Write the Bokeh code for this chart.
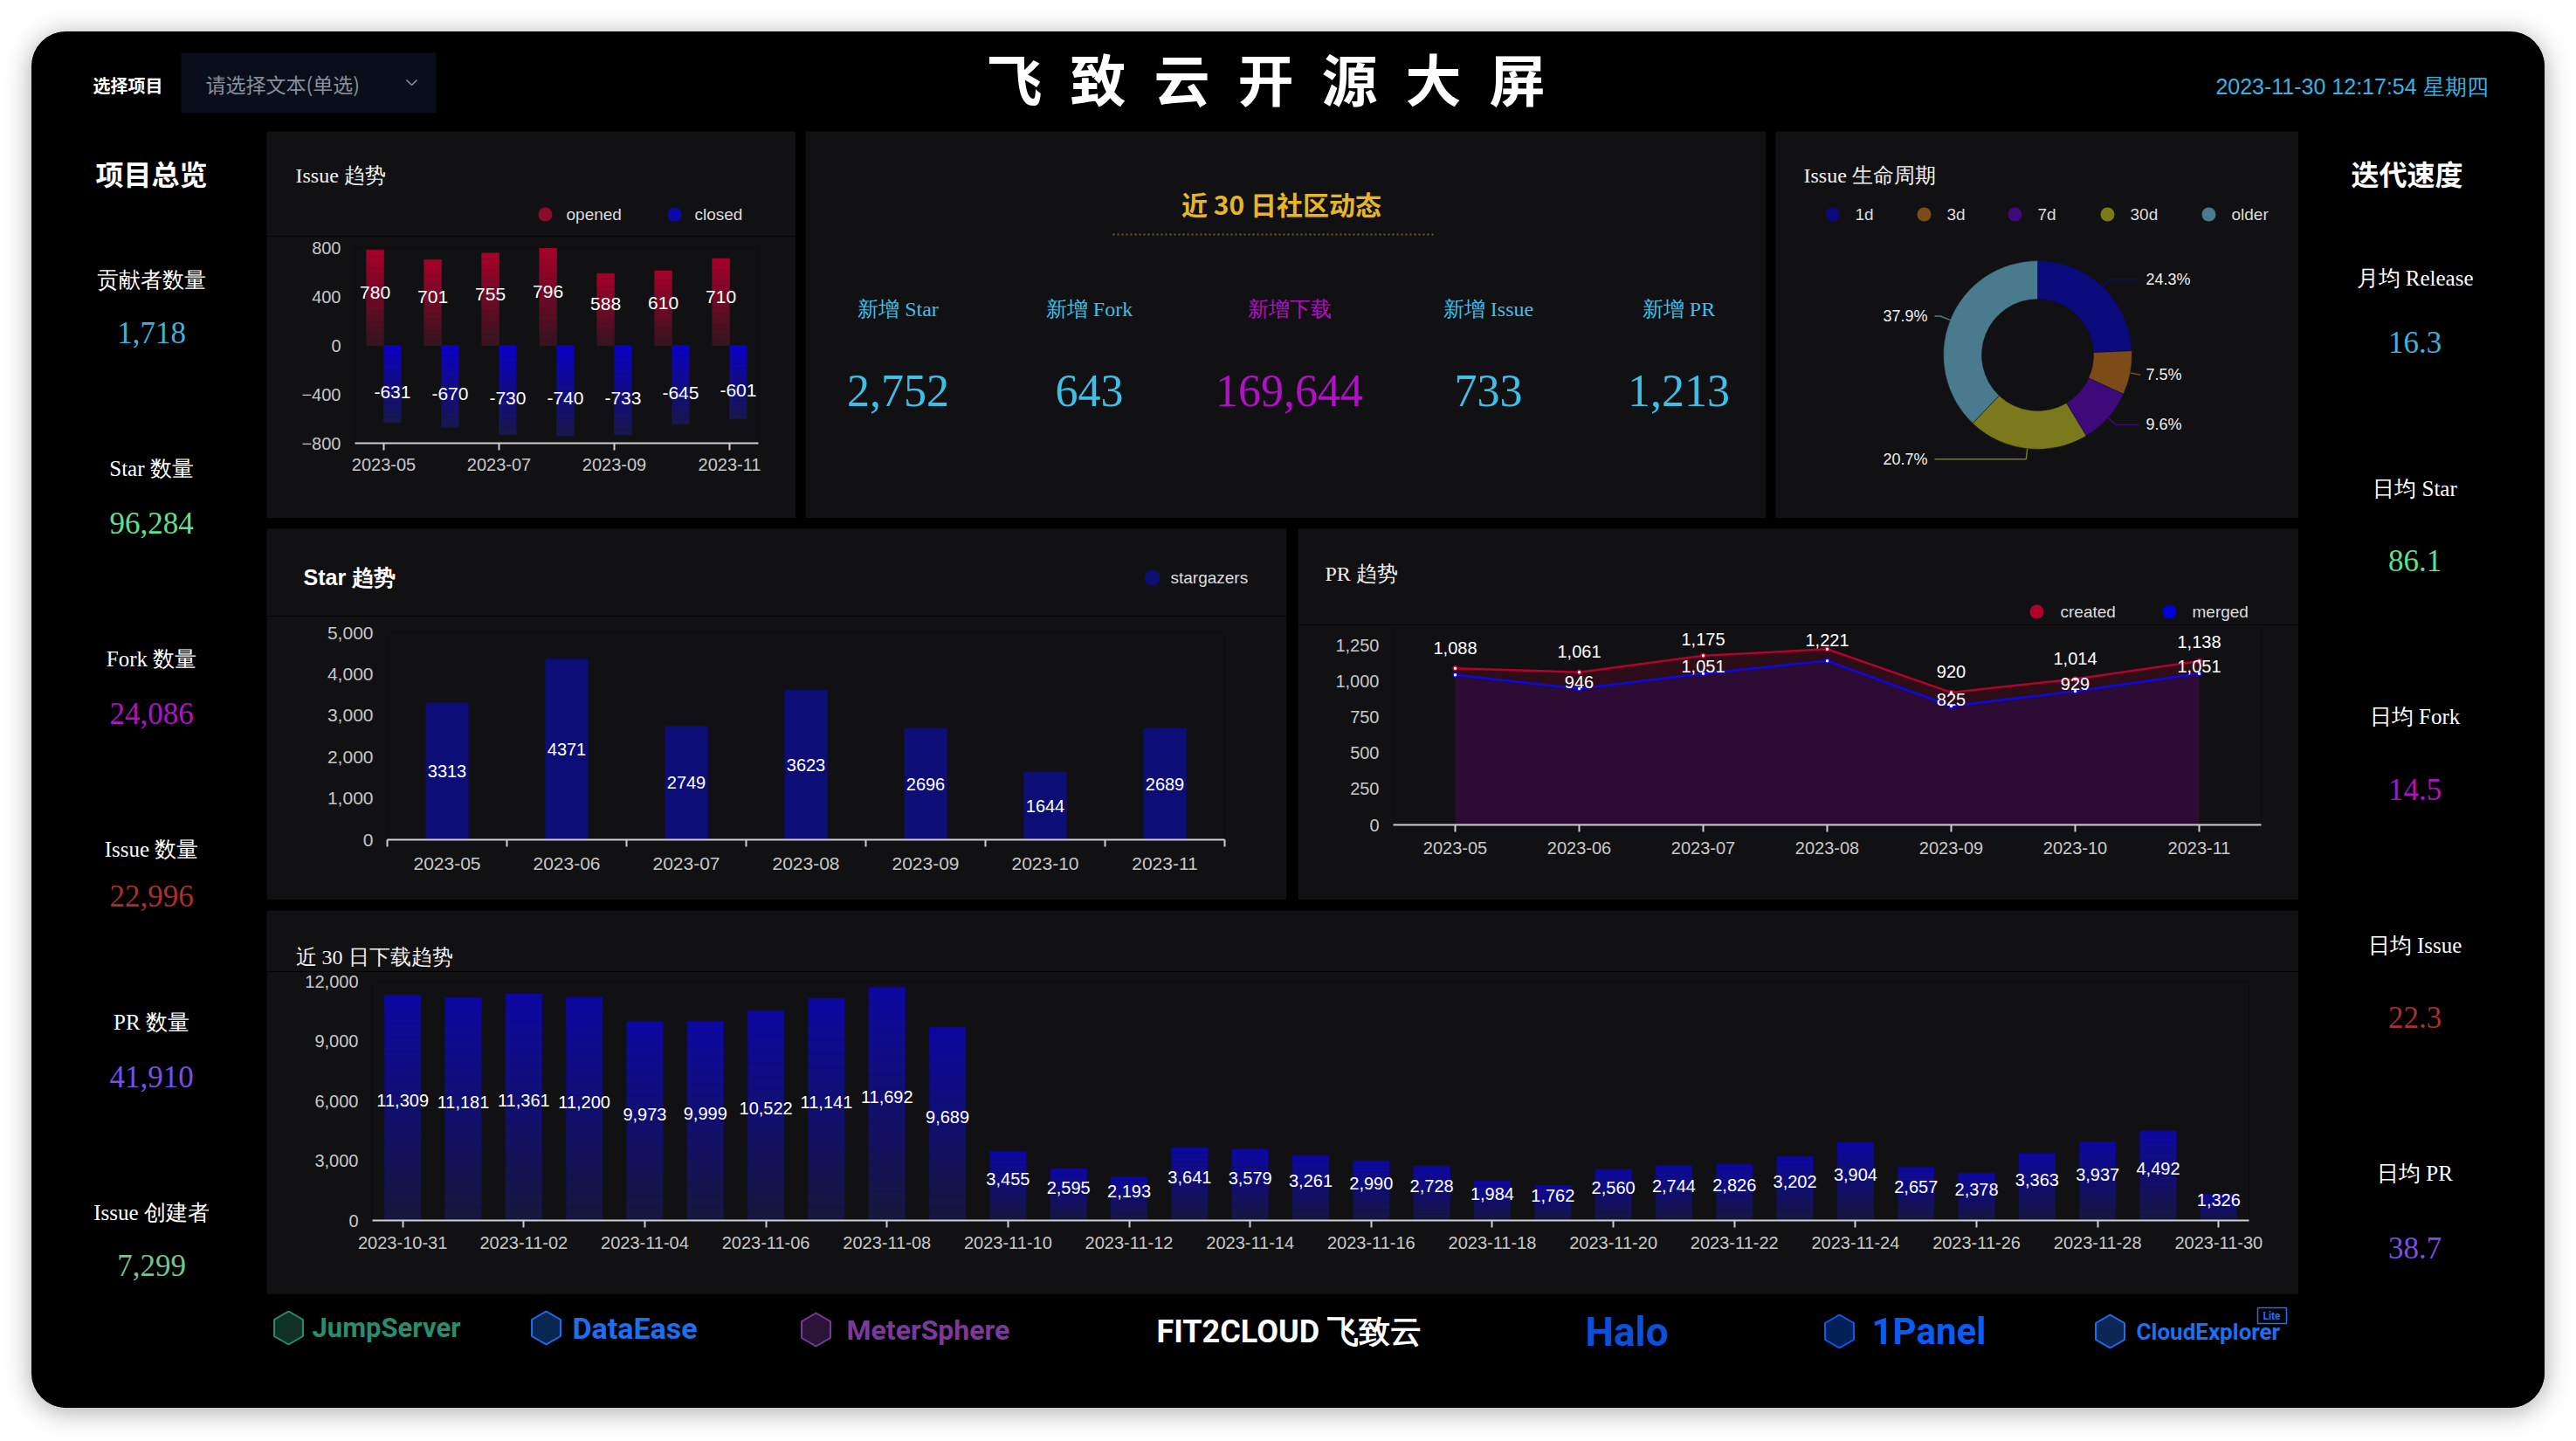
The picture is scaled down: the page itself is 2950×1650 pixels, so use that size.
import math
from bokeh.plotting import figure
from bokeh.layouts import row, column
from bokeh.models import Range1d, FixedTicker, NumeralTickFormatter
from bokeh.embed import file_html
from bokeh.resources import INLINE
from bokeh.core.properties import value

# ---------------- data ----------------
months = ["2023-05", "2023-06", "2023-07", "2023-08", "2023-09", "2023-10", "2023-11"]
issue_opened = [780, 701, 755, 796, 588, 610, 710]
issue_closed = [-631, -670, -730, -740, -733, -645, -601]
star_counts = [3313, 4371, 2749, 3623, 2696, 1644, 2689]
pr_created = [1088, 1061, 1175, 1221, 920, 1014, 1138]
pr_merged = [1042, 946, 1051, 1140, 825, 929, 1051]
pr_merged_label_shown = [False, True, True, False, True, True, True]
lifecycle_labels = ["1d", "3d", "7d", "30d", "older"]
lifecycle_pct = [24.3, 7.5, 9.6, 20.7, 37.9]
download_dates = ["2023-10-31"] + ["2023-11-%02d" % d for d in range(1, 31)]
download_counts = [11309, 11181, 11361, 11200, 9973, 9999, 10522, 11141, 11692, 9689,
                   3455, 2595, 2193, 3641, 3579, 3261, 2990, 2728, 1984, 1762,
                   2560, 2744, 2826, 3202, 3904, 2657, 2378, 3363, 3937, 4492, 1326]
overview_labels = ["贡献者数量", "Star 数量", "Fork 数量", "Issue 数量", "PR 数量", "Issue 创建者"]
overview_values = [1718, 96284, 24086, 22996, 41910, 7299]
speed_labels = ["月均 Release", "日均 Star", "日均 Fork", "日均 Issue", "日均 PR"]
speed_values = [16.3, 86.1, 14.5, 22.3, 38.7]
recent_labels = ["新增 Star", "新增 Fork", "新增下载", "新增 Issue", "新增 PR"]
recent_values = [2752, 643, 169644, 733, 1213]
logo_names = ["JumpServer", "DataEase", "MeterSphere", "FIT2CLOUD 飞致云", "Halo", "1Panel", "CloudExplorer"]

# ---------------- style ----------------
PANEL = "#111114"
BLACK = "#000000"
SANS = "Liberation Sans"
SERIF = "Liberation Serif"
CJK = "Noto Sans CJK SC"
TICK = "#c8c8c8"
AXIS = "#cfcfcf"
PR_CREATED_LABEL_DY = [-23, -24, -19, -10, -24, -23, -22]


def canvas(w, h, bg=PANEL, invert=True):
    yr = Range1d(h, 0) if invert else Range1d(0, h)
    p = figure(width=w, height=h, x_range=Range1d(0, w), y_range=yr,
               x_axis_type=None, y_axis_type=None, output_backend="svg",
               toolbar_location=None, min_border=0, frame_align=False)
    p.background_fill_color = bg
    p.border_fill_color = bg
    p.outline_line_color = None
    return p


def txt(p, xs, ys, texts, size, color, font=SANS, style="normal", align="center", baseline="middle"):
    p.text(x=xs, y=ys, text=texts, text_font=value(font), text_font_size=f"{size}px",
           text_color=color, text_font_style=style, text_align=align, text_baseline=baseline)


def chart_fig(w, h, left, right, top, bottom, xr, yr):
    p = figure(width=w, height=h, x_range=xr, y_range=yr, output_backend="svg",
               toolbar_location=None, min_border_left=left, min_border_right=right,
               min_border_top=top, min_border_bottom=bottom, frame_align=False)
    p.background_fill_color = PANEL
    p.border_fill_color = PANEL
    p.outline_line_color = None
    p.grid.visible = False
    for ax in p.yaxis:
        ax.axis_line_color = None
        ax.major_tick_line_color = None
        ax.minor_tick_line_color = None
        ax.major_tick_out = 0
        ax.major_label_text_color = TICK
        ax.major_label_text_font = SANS
        ax.major_label_text_font_size = "20px"
        ax.major_label_standoff = 16
    for ax in p.xaxis:
        ax.axis_line_color = AXIS
        ax.axis_line_width = 2
        ax.major_tick_line_color = AXIS
        ax.major_tick_line_width = 2
        ax.major_tick_out = 8
        ax.major_tick_in = 0
        ax.minor_tick_line_color = None
        ax.major_label_text_color = TICK
        ax.major_label_text_font = SANS
        ax.major_label_text_font_size = "20px"
        ax.major_label_standoff = 9
    return p


def mix(c1, c2, t):
    a = [int(c1[i:i + 2], 16) for i in (1, 3, 5)]
    b = [int(c2[i:i + 2], 16) for i in (1, 3, 5)]
    return "#%02x%02x%02x" % tuple(round(a[k] + (b[k] - a[k]) * t) for k in range(3))


def gradient_vbars(p, xs, vals, width, top_color, bottom_color, k=16):
    X, B, T, C = [], [], [], []
    for x, v in zip(xs, vals):
        lo, hi = min(0, v), max(0, v)
        for j in range(k):
            X.append(x)
            B.append(lo + (hi - lo) * j / k)
            T.append(lo + (hi - lo) * (j + 1) / k)
            C.append(mix(bottom_color, top_color, (j + 0.5) / k))
    p.vbar(x=X, bottom=B, top=T, width=width, fill_color=C, line_color=C, line_width=0.6)


n_m = len(months)
idx = list(range(n_m))

# ---------------- header ----------------
hdr = canvas(2878, 114, BLACK)
hdr.quad(left=[171], right=[463], top=[24], bottom=[93], fill_color="#0a0e1a", line_color=None)
txt(hdr, [110], [61], ["选择项目"], 20, "#ffffff", CJK, "bold")
txt(hdr, [199], [59], ["请选择文本(单选)"], 23, "#8a909c", CJK, align="left")
hdr.line(x=[429, 435, 441], y=[55, 61, 55], line_color="#8a909c", line_width=1.5)
txt(hdr, [1413], [51], ["飞\u2002致\u2002云\u2002开\u2002源\u2002大\u2002屏"], 64, "#ffffff", CJK, "bold")
txt(hdr, [2657], [62], ["2023-11-30 12:17:54 星期四"], 25, "#3ab3e3", SANS)

# ---------------- left column ----------------
left = canvas(269, 1462, BLACK)
txt(left, [137], [47], ["项目总览"], 32, "#ffffff", CJK, "bold")
ov_label_y = [170, 386, 604, 822, 1020, 1238]
ov_value_y = [230, 448, 666, 875, 1082, 1298]
ov_colors = ["#3fb1dc", "#5fe08e", "#b012c6", "#a83030", "#7b50e0", "#74c48c"]
txt(left, [137] * 6, ov_label_y, overview_labels, 25, "#ffffff", SERIF)
left.text(x=[137] * 6, y=ov_value_y, text=[f"{v:,}" for v in overview_values],
          text_font=value(SERIF), text_font_size="35px", text_color=ov_colors,
          text_align="center", text_baseline="middle")

# ---------------- right column ----------------
right = canvas(282, 1462, BLACK)
txt(right, [124], [47], ["迭代速度"], 32, "#ffffff", CJK, "bold")
sp_label_y = [168, 409, 670, 932, 1193]
sp_value_y = [241, 491, 753, 1014, 1278]
sp_colors = ["#3fb1dc", "#5fe08e", "#b012c6", "#a83030", "#7b50e0"]
txt(right, [133] * 5, sp_label_y, speed_labels, 25, "#ffffff", SERIF)
right.text(x=[133] * 5, y=sp_value_y, text=[f"{v:.1f}" for v in speed_values],
           text_font=value(SERIF), text_font_size="35px", text_color=sp_colors,
           text_align="center", text_baseline="middle")

# ---------------- Issue trend ----------------
ih = canvas(606, 120)
txt(ih, [33], [50], ["Issue 趋势"], 24, "#f0f0f0", SERIF, align="left")
ih.circle(x=[319, 467], y=[95, 95], radius=8, fill_color=["#8c0a2a", "#0a0aa8"], line_color=None)
txt(ih, [343, 490], [95, 95], ["opened", "closed"], 19, "#dddddd", SANS, align="left")

ic = chart_fig(606, 323, 101, 43, 13, 86, Range1d(-0.5, n_m - 0.5), Range1d(-800, 800))
gradient_vbars(ic, [i - 0.15 for i in idx], issue_opened, 0.3, "#a8002a", "#331520")
gradient_vbars(ic, [i + 0.15 for i in idx], issue_closed, 0.3, "#0b00c4", "#18184a")
ic.text(x=[i - 0.15 for i in idx], y=[v / 2 for v in issue_opened], text=[str(v) for v in issue_opened],
        y_offset=-6, text_font=value(SANS), text_font_size="21px", text_color="#ffffff",
        text_align="center", text_baseline="middle")
ic.text(x=[i + 0.15 for i in idx], y=[v / 2 for v in issue_closed], text=[str(v) for v in issue_closed],
        y_offset=9, text_font=value(SANS), text_font_size="21px", text_color="#ffffff",
        text_align="center", text_baseline="middle")
ic.xaxis.ticker = FixedTicker(ticks=idx[::2])
ic.xaxis.major_label_overrides = {i: months[i] for i in idx[::2]}
ic.yaxis.ticker = FixedTicker(ticks=[-800, -400, 0, 400, 800])
issue_panel = column(ih, ic, spacing=0)

# ---------------- center: recent 30 days ----------------
cen = canvas(1100, 443)
txt(cen, [545], [82], ["近 30 日社区动态"], 30, "#e6b528", CJK, "bold")
cen.line(x=[352, 719], y=[118, 118], line_color="#6e5c1c", line_width=2, line_dash="2 3")
rc_x = [106, 325, 554, 782, 1000]
rc_colors = ["#3fbfe6", "#3fbfe6", "#b40fc8", "#3fbfe6", "#3fbfe6"]
cen.text(x=rc_x, y=[203] * 5, text=recent_labels, text_font=value(SERIF), text_font_size="24px",
         text_color=rc_colors, text_align="center", text_baseline="middle")
cen.text(x=rc_x, y=[297] * 5, text=[f"{v:,}" for v in recent_values], text_font=value(SERIF),
         text_font_size="52px", text_color=rc_colors, text_align="center", text_baseline="middle")

# ---------------- Issue lifecycle donut ----------------
dn = canvas(599, 443, invert=False)
H = 443
txt(dn, [32], [H - 50], ["Issue 生命周期"], 24, "#f0f0f0", SERIF, align="left")
lc_colors = ["#0a0a7c", "#7c4c18", "#3c0a7a", "#7a7a1c", "#4a7a8e"]
lg_x = [65, 170, 274, 380, 496]
dn.circle(x=lg_x, y=[H - 95] * 5, radius=8, fill_color=lc_colors, line_color=None)
txt(dn, [x + 26 for x in lg_x], [H - 95] * 5, lifecycle_labels, 19, "#dddddd", SANS, align="left")
cx, cy, R, r = 300, H - 256, 108, 64
starts, ends, mids = [], [], []
cum = 0.0
for pct in lifecycle_pct:
    starts.append(90 - cum * 3.6)
    ends.append(90 - (cum + pct) * 3.6)
    mids.append(math.radians(90 - (cum + pct / 2) * 3.6))
    cum += pct
dn.annular_wedge(x=[cx] * 5, y=[cy] * 5, inner_radius=r, outer_radius=R, start_angle=starts,
                 end_angle=ends, start_angle_units="deg", end_angle_units="deg", direction="clock",
                 fill_color=lc_colors, line_color=PANEL, line_width=0.5)
lxs, lys, tx, ty, ta = [], [], [], [], []
for m in mids:
    x1, y1 = cx + R * math.cos(m), cy + R * math.sin(m)
    x2, y2 = cx + (R + 12) * math.cos(m), cy + (R + 12) * math.sin(m)
    if math.cos(m) >= 0:
        x3 = max(x2, cx + 116)
        tx.append(cx + 124); ta.append("left")
    else:
        x3 = min(x2, cx - 118)
        tx.append(cx - 126); ta.append("right")
    lxs.append([x1, x2, x3]); lys.append([y1, y2, y2]); ty.append(y2)
dn.multi_line(xs=lxs, ys=lys, line_color=lc_colors, line_width=1.5)
dn.text(x=tx, y=ty, text=[f"{p}%" for p in lifecycle_pct], text_align=ta, text_baseline="middle",
        text_font=value(SANS), text_font_size="18px", text_color="#f0f0f0")

row1 = row(issue_panel, cen, dn, spacing=11)

# ---------------- Star trend ----------------
sh = canvas(1168, 100)
txt(sh, [42], [55], ["Star 趋势"], 25, "#ffffff", SANS, "bold", align="left")
sh.circle(x=[1014], y=[56], radius=9, fill_color="#0d0d78", line_color=None)
txt(sh, [1035], [56], ["stargazers"], 19, "#dddddd", SANS, align="left")

sc = chart_fig(1168, 325, 138, 71, 19, 69, Range1d(-0.5, n_m - 0.5), Range1d(0, 5000))
sc.vbar(x=idx, top=star_counts, width=0.36, fill_color="#0d0d78", line_color=None)
sc.text(x=idx, y=[v / 2 for v in star_counts], text=[str(v) for v in star_counts],
        text_font=value(SANS), text_font_size="20px", text_color="#ffffff",
        text_align="center", text_baseline="middle")
sc.xaxis.ticker = FixedTicker(ticks=idx, minor_ticks=[i - 0.5 for i in range(n_m + 1)])
sc.xaxis.major_label_overrides = {i: months[i] for i in idx}
sc.xaxis.major_tick_line_color = None
sc.xaxis.major_tick_out = 0
sc.xaxis.minor_tick_line_color = AXIS
sc.xaxis.minor_tick_line_width = 2
sc.xaxis.minor_tick_out = 8
sc.xaxis.minor_tick_in = 0
sc.xaxis.major_label_standoff = 12
sc.xaxis.major_label_text_font_size = "21px"
sc.yaxis.major_label_text_font_size = "21px"
sc.yaxis.ticker = FixedTicker(ticks=[0, 1000, 2000, 3000, 4000, 5000])
sc.yaxis.formatter = NumeralTickFormatter(format="0,0")
star_panel = column(sh, sc, spacing=0)

# ---------------- PR trend ----------------
ph = canvas(1146, 110)
txt(ph, [31], [51], ["PR 趋势"], 24, "#f0f0f0", SERIF, align="left")
ph.circle(x=[846, 998], y=[95, 95], radius=8, fill_color=["#b0002a", "#0000d8"], line_color=None)
txt(ph, [873, 1024], [95, 95], ["created", "merged"], 19, "#dddddd", SANS, align="left")

# frame starts at the top of the chart figure so that labels above 1,250 are not clipped;
# the range end keeps 1,250 at the same pixel height as the reference axis top
pr_h, pr_bottom, pr_top_gap = 315, 86, 23
pr_frame = pr_h - pr_bottom
pr_ymax = 1250 * pr_frame / (pr_frame - pr_top_gap)
pc = chart_fig(1146, pr_h, 109, 43, 0, pr_bottom, Range1d(-0.5, n_m - 0.5), Range1d(0, pr_ymax))
pc.varea(x=idx, y1=[0] * n_m, y2=pr_created, fill_color="#b0002a", fill_alpha=0.18)
pc.varea(x=idx, y1=[0] * n_m, y2=pr_merged, fill_color="#2a00e0", fill_alpha=0.15)
pc.line(x=idx, y=pr_created, line_color="#b4002c", line_width=2.5)
pc.line(x=idx, y=pr_merged, line_color="#0a0ae6", line_width=2.5)
pc.scatter(x=idx, y=pr_created, size=5, fill_color="#ffffff", line_color="#b4002c", line_width=1.5)
pc.scatter(x=idx, y=pr_merged, size=5, fill_color="#ffffff", line_color="#0a0ae6", line_width=1.5)
pc.text(x=idx, y=pr_created, text=[f"{v:,}" for v in pr_created], y_offset=PR_CREATED_LABEL_DY,
        text_font=value(SANS), text_font_size="20px", text_color="#ffffff",
        text_align="center", text_baseline="middle")
mi = [i for i in idx if pr_merged_label_shown[i]]
pc.text(x=mi, y=[pr_merged[i] for i in mi], text=[f"{pr_merged[i]:,}" for i in mi], y_offset=-8,
        text_font=value(SANS), text_font_size="20px", text_color="#ffffff",
        text_align="center", text_baseline="middle")
pc.xaxis.ticker = FixedTicker(ticks=idx)
pc.xaxis.major_label_overrides = {i: months[i] for i in idx}
pc.xaxis.major_label_standoff = 11
pc.yaxis.ticker = FixedTicker(ticks=[0, 250, 500, 750, 1000, 1250])
pc.yaxis.formatter = NumeralTickFormatter(format="0,0")
pr_panel = column(ph, pc, spacing=0)

row2 = row(star_panel, pr_panel, spacing=13)

# ---------------- Downloads ----------------
n_d = len(download_dates)
didx = list(range(n_d))
dh = canvas(2327, 70)
txt(dh, [33], [53], ["近 30 日下载趋势"], 24, "#f0f0f0", SERIF, align="left")
dc = chart_fig(2327, 370, 121, 57, 11, 85, Range1d(-0.5, n_d - 0.5), Range1d(0, 12000))
gradient_vbars(dc, didx, download_counts, 0.6, "#0c08a2", "#16163c")
dc.text(x=didx, y=[v / 2 for v in download_counts], text=[f"{v:,}" for v in download_counts],
        y_offset=-8, text_font=value(SANS), text_font_size="20px", text_color="#ffffff",
        text_align="center", text_baseline="middle")
dc.xaxis.ticker = FixedTicker(ticks=didx[::2])
dc.xaxis.major_label_overrides = {i: download_dates[i] for i in didx[::2]}
dc.xaxis.major_label_standoff = 10
dc.yaxis.ticker = FixedTicker(ticks=[0, 3000, 6000, 9000, 12000])
dc.yaxis.formatter = NumeralTickFormatter(format="0,0")
dl_panel = column(dh, dc, spacing=0)

# ---------------- logos ----------------
lg = canvas(2327, 118, BLACK)
icon_x = [25, 320, 629, 1801, 2111]
icon_y = [26, 26, 28, 30, 30]
icon_c = ["#2b8c6e", "#1e6ff0", "#7b3a9b", "#0a5cf5", "#1f6ff2"]
lg.scatter(x=icon_x, y=icon_y, marker="hex", size=38, angle=math.pi / 6,
           fill_color=icon_c, fill_alpha=0.35, line_color=icon_c, line_width=2)
logo_x = [52, 350, 664, 1019, 1510, 1838, 2141]
logo_y = [26, 26, 28, 30, 30, 30, 30]
logo_size = ["31px", "34px", "32px", "36px", "46px", "42px", "26px"]
logo_c = ["#2b8c6e", "#1e6ff0", "#7b3a9b", "#ffffff", "#0d4fd6", "#0a5cf5", "#1f6ff2"]
lg.text(x=logo_x, y=logo_y, text=logo_names, text_font=value("Roboto"), text_font_style="bold",
        text_font_size=logo_size, text_color=logo_c, text_align="left", text_baseline="middle")
lg.quad(left=[2280], right=[2313], top=[3], bottom=[21], fill_color=None, line_color="#1f6ff2", line_width=1.5)
txt(lg, [2296], [12], ["Lite"], 12, "#1f6ff2", "Roboto", "bold")

mid = column(row1, row2, dl_panel, lg, spacing=12)
body = row(left, mid, right, spacing=0)
root = column(hdr, body, spacing=0, margin=(36, 36, 36, 36),
              styles={"background-color": "#000000", "border-radius": "40px", "overflow": "hidden",
                      "box-shadow": "0 4px 30px rgba(0,0,0,0.35)"})

open("out.html", "w").write(file_html(root, INLINE))
